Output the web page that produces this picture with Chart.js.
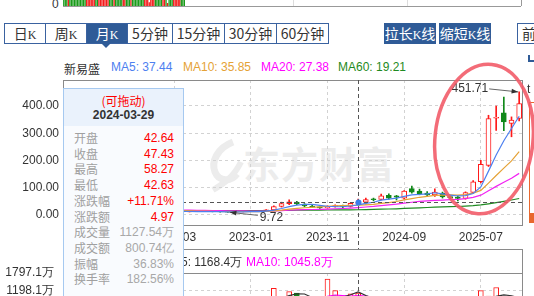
<!DOCTYPE html>
<html>
<head>
<meta charset="utf-8">
<title>新易盛 - 月K</title>
<script src="https://cdn.jsdelivr.net/npm/chart.js@4.4.1/dist/chart.umd.min.js"></script>
<style>
  body { margin:0; width:534px; height:296px; overflow:hidden; position:relative; background:#fff;
         font-family:"Liberation Sans", Arial, sans-serif; color:#333; }
  canvas { position:absolute; left:0; }
  .cn { font-family:"Noto Sans CJK SC", sans-serif; }
  #tabs { position:absolute; left:4px; top:23px; height:19px; border:1px solid #3a62a0; display:flex; }
  #tabs span { display:block; height:19px; line-height:19px; text-align:center; font-size:14px;
               font-family:"Noto Sans CJK SC", sans-serif; border-left:1px solid #3a62a0; color:#333; }
  #tabs span:first-child { border-left:none; }
  #tabs span.on { background:#2f5b97; color:#fff; }
  #tabs i { font-style:normal; font-family:"Liberation Serif", serif; font-size:12px; }
  #tri { position:absolute; left:101px; top:43px; width:0; height:0; border-left:5px solid transparent;
         border-right:5px solid transparent; border-top:5px solid #2f5b97; }
  .btn { position:absolute; top:23px; height:21px; line-height:21px; background:#2f5b97; color:#fff;
         font-size:14px; text-align:center; font-family:"Noto Sans CJK SC", sans-serif; }
  .btn i { font-style:normal; font-family:"Liberation Serif", serif; font-size:12px; }
  #prev { position:absolute; left:517px; top:23px; width:20px; height:19px; border:1px solid #3a62a0;
          font-size:14px; line-height:19px; padding-left:4px; font-family:"Noto Sans CJK SC", sans-serif; }
  #legend { position:absolute; left:64px; top:60px; font-size:12px; white-space:nowrap; }
  #legend span { position:absolute; top:0; }
  #volLegend { position:absolute; left:0; top:254px; font-size:12px; white-space:nowrap; }
  #volLegend span { position:absolute; top:0; }
  #watermark { position:absolute; left:243px; top:136px; font-size:37px; font-weight:bold; color:#ececec;
               font-family:"Noto Sans CJK SC", sans-serif; letter-spacing:1px; }
  #tip { position:absolute; left:63px; top:88px; width:119px; height:230px; border:1px solid #a6c9f0;
         background:#f9fbfe; font-size:12px; }
  #tipHead { height:37px; background:#eaf2fc; text-align:center; }
  #tipHead .drag { color:#f00; padding-top:5px; line-height:14px; font-family:"Noto Sans CJK SC", sans-serif; }
  #tipHead .date { font-weight:bold; color:#333; line-height:14px; }
  .row { position:absolute; left:10px; width:100px; height:16px; line-height:16px; }
  .row span { color:#a0a0a0; font-family:"Noto Sans CJK SC", sans-serif; }
  .row b { position:absolute; right:0; top:0; font-weight:normal; }
  .red { color:#f00; }
  .gray { color:#a8a8a8; }
  #side { position:absolute; left:529px; top:102px; width:6px; height:119px; border:1px solid #e8682e;
          border-right:none; background:#fff; }
  #side div { position:absolute; left:0; bottom:0; width:6px; height:9px; background:#e8682e; }
</style>
</head>
<body>

<div style="position:absolute;left:52px;top:-3px;font-size:12px;">0</div>
<canvas id="strip" width="534" height="7" style="top:0"></canvas>

<div id="tabs">
  <span style="width:40px">日<i>K</i></span>
  <span style="width:40px">周<i>K</i></span>
  <span class="on" style="width:40px">月<i>K</i></span>
  <span style="width:44px">5分钟</span>
  <span style="width:51px">15分钟</span>
  <span style="width:51px">30分钟</span>
  <span style="width:51px">60分钟</span>
</div>
<div id="tri"></div>
<div class="btn" style="left:384px;width:52px;">拉长<i>K</i>线</div>
<div class="btn" style="left:439px;width:52px;">缩短<i>K</i>线</div>
<div id="prev">前</div>
<div style="position:absolute;left:528px;top:55px;width:5px;height:5px;border-left:2px solid #2f5b97;border-bottom:2px solid #2f5b97;"></div>

<div id="legend">
  <span class="cn" style="left:0;color:#333;">新易盛</span>
  <span style="left:47px;color:#4d80f0;">MA5: 37.44</span>
  <span style="left:119px;color:#e5a236;">MA10: 35.85</span>
  <span style="left:197px;color:#f0f;">MA20: 27.38</span>
  <span style="left:274px;color:#1f8a22;">MA60: 19.21</span>
</div>

<div id="watermark">东方财富</div>
<svg style="position:absolute;left:203px;top:138px" width="42" height="56">
  <path d="M30 4 C14 10 8 24 12 34 C16 44 28 44 34 36" fill="none" stroke="#ececec" stroke-width="7"/>
  <path d="M10 52 C20 46 30 40 38 24" fill="none" stroke="#ececec" stroke-width="6"/>
</svg>

<canvas id="main" width="534" height="170" style="top:80px"></canvas>

<div style="position:absolute;left:527px;top:82px;font-size:12px;">t</div>
<div id="side"><div></div></div>

<canvas id="vol" width="534" height="80" style="top:249px"></canvas>
<div id="volLegend">
  <span id="vma5" style="left:163px;color:#333;"></span>
  <span id="vma10" style="left:246px;color:#f0f;"></span>
</div>

<div id="tip">
  <div id="tipHead"><div class="drag">(可拖动)</div><div class="date" id="tipDate"></div></div>
</div>

<svg style="position:absolute;left:0;top:0;pointer-events:none" width="534" height="296">
  <ellipse cx="484" cy="139" rx="49" ry="75" transform="rotate(6 484 139)" fill="none"
           stroke="#f25c69" stroke-width="3.5" opacity="0.9"/>
</svg>

<script>

// monthly K data, forward adjusted
var months = [
  '2021-01','2021-02','2021-03','2021-04','2021-05','2021-06','2021-07','2021-08','2021-09','2021-10','2021-11','2021-12',
  '2022-01','2022-02','2022-03','2022-04','2022-05','2022-06','2022-07','2022-08','2022-09','2022-10','2022-11','2022-12',
  '2023-01','2023-02','2023-03','2023-04','2023-05','2023-06','2023-07','2023-08','2023-09','2023-10','2023-11','2023-12',
  '2024-01','2024-02','2024-03','2024-04','2024-05','2024-06','2024-07','2024-08','2024-09','2024-10','2024-11','2024-12',
  '2025-01','2025-02','2025-03','2025-04','2025-05','2025-06','2025-07','2025-08','2025-09','2025-10','2025-11','2025-12'
];
var openP  = [20,22,20,17,19,21,20,18,20,17,18,17, 16,14,14,12.5,11.5,12.5,13,12.5,12,11,10.5,12,
              12.5,14.5,13.5,18.5,31,42,47,40,33,29,26,31, 34,31,42.64,47.5,58,57,72,70,62,97,88,80,
              74,80,68,66,61,83,122,182,355,375,336,354];
var highP  = [24,25,21,20,22,23,22,21,21,19,19,18, 17,15,15,13,13,14,14,13,12.5,11.5,12.5,13,
              15,16,20,34,47,56,50,42,35,30,34,37, 36,44,58.27,62,62,77,78,72,90,106,95,86,
              96,84,72,70,85,126,201,366,400,433,360,451.71];
var lowP   = [18,19,16,16,18,19,17,17,16,16,16,15, 13,13,12,10.5,11,12,12,11.5,10.5,9.72,10.2,11.5,
              12,13,13,18,29,38,38,30,27,24,25,29, 26,29,42.63,40,52,55,58,55,58,80,74,70,
              68,62,58,52,58,80,118,178,310,309,287,345];
var closeP = [22,20,17,19,21,20,18,20,17,18,17,16, 14,14,12.5,11.5,12.5,13,12.5,12,11,10.5,12,12.5,
              14.5,13.5,18.5,31,42,48,41,33,29,26,31,34, 31,42.46,47.43,57,56,70,62,65,88,84,78,74,
              84,66,64,61,82,122,186,354,358,342,348,409];

// moving averages (hidden under the info box before 2022-04)
var ma5  = [null,null,null,null,null,null,null,null,null,null,null,null,null,null,null,
  13.6,12.9,12.7,12.4,12.3,12.2,11.8,11.6,11.6,12.1,12.6,14.2,18.0,23.9,30.6,36.1,39.0,38.6,35.4,32.0,
  30.6,30.2,32.9,37.44,42.4,46.8,54.6,58.5,62.0,68.2,73.8,75.4,77.8,81.6,77.2,73.2,69.8,71.4,79.0,103.0,
  161.0,220.4,272.4,317.6,362.2];
var ma10 = [null,null,null,null,null,null,null,null,null,null,null,null,null,null,null,
  15.8,15.25,14.55,14.1,13.5,12.9,12.35,12.15,12.0,12.2,12.4,13.0,14.8,17.75,21.35,24.35,26.6,28.3,29.65,31.3,
  33.35,34.6,35.75,35.85,37.2,38.7,42.4,45.7,49.6,55.3,60.3,65.0,68.1,71.8,72.7,73.5,72.6,74.6,80.3,90.1,
  117.1,145.1,171.9,198.3,232.6];
var ma20 = [null,null,null,null,null,null,null,null,null,null,null,null,null,null,null,
  18.0,17.5,17.0,16.7,16.35,15.8,15.3,15.1,14.75,14.4,14.1,14.1,14.7,15.9,17.4,18.6,19.5,20.2,20.8,21.75,
  22.9,23.8,25.3,27.38,29.3,31.5,34.5,37.0,39.6,43.3,46.8,49.8,51.9,54.0,54.9,56.1,57.5,60.1,64.9,72.7,
  88.7,105.0,120.0,135.0,152.7];
var ma60 = [null,null,null,null,null,null,null,null,null,null,null,null,null,null,null,
  16.5,16.4,16.3,16.2,16.1,16.0,15.9,15.8,15.8,15.8,15.8,15.9,16.1,16.5,17.0,17.4,17.7,17.9,18.1,18.3,
  18.5,18.7,18.9,19.21,19.8,20.4,21.2,22.0,22.8,24.0,25.2,26.3,27.4,28.6,29.5,30.4,31.2,32.4,34.1,36.8,
  41.0,45.5,50.0,55.0,60.5];

// volume, 万股
var volume = [900,850,1000,750,800,700,900,750,650,600,700,650, 800,700,650,600,700,650,800,600,500,550,750,600,
  700,800,1000,1283,950,1176,1126,960,700,650,1598,1208, 810,1100,1127.54,1000,750,900,700,600,950,1000,800,650,
  700,600,550,750,650,900,1208,1030,1315,900,750,850];
var volMa5  = [null,null,null,null,null,null,null,null,null,null,null,null,null,null,null,null,
  690,660,680,670,650,620,640,600,620,680,770,877,947,1042,1107,1099,982,922,1007,1023,993,1073,1168.4,
  1049,958,976,896,790,780,830,810,800,820,750,660,650,650,690,812,908,1021,1071,1041,969];
var volMa10 = [null,null,null,null,null,null,null,null,null,null,null,null,null,null,null,null,
  690,680,690,680,660,655,650,640,645,665,695,758,773,831,893,934,930,934,1024,1065,1046,1027,1045.8,
  1028,990,985,985,979,915,894,893,848,805,765,745,730,725,755,781,784,836,861,866,891];

var priceTicks = [0, 100, 200, 300, 400];
var volTicks = [0, 599.0, 1198.1, 1797.1];
var tickMonths = ['2022-03', '2023-01', '2023-11', '2024-09', '2025-07'];
var crossMonth = '2024-03';
var crossDate = '2024-03-29';
var turnoverAmt = '800.74亿';
var turnoverRate = '182.56%';

// tail of the chart above (daily volume strip)
var stripUp = ['gggrgggggg','gggggrrrrr','rggrrrrrrr','gggrgggggr','rgggrggggg','gggrrrrrrr','gggggrrgrg','ggrrrrrggg'].join('');
var stripVals = [10,10,10,10,10,10,10,10,10,10, 10,10,10,10,10,10,10,10,10,10, 10,10,10,10,10,10,10,10,10,10,
                 10,10,10,10,10,10,10,10,10,10, 10,10,10,10,10,10,10,10,10,10, 10,10,10,10,10,10,5,10,10,10,
                 10,10,10,10,10,10,10,10,4,10, 10,10,10,10,10,10,10,10,10,10];

var RED = '#ff1a1a', GREEN = '#11891a';
var GRID = '#d2d2d2';

function isUp(i) { return closeP[i] >= openP[i]; }
function labelled(i) { return tickMonths.indexOf(months[i]) >= 0; }
var crossIdx = months.indexOf(crossMonth);

function arrowTo(ctx, x1, y1, x2, y2) {
  ctx.beginPath(); ctx.moveTo(x1, y1); ctx.lineTo(x2, y2); ctx.stroke();
  var a = Math.atan2(y2 - y1, x2 - x1);
  ctx.beginPath(); ctx.moveTo(x2, y2);
  ctx.lineTo(x2 - 7 * Math.cos(a - 0.35), y2 - 7 * Math.sin(a - 0.35));
  ctx.lineTo(x2 - 7 * Math.cos(a + 0.35), y2 - 7 * Math.sin(a + 0.35));
  ctx.closePath(); ctx.fill();
}

function crossLine(chart) {
  var ctx = chart.ctx;
  var cx = Math.round(chart.scales.x.getPixelForValue(crossIdx)) + 0.5;
  ctx.save();
  ctx.strokeStyle = '#555'; ctx.lineWidth = 1; ctx.setLineDash([4, 3]);
  ctx.beginPath(); ctx.moveTo(cx, chart.chartArea.top); ctx.lineTo(cx, chart.height); ctx.stroke();
  ctx.restore();
  return cx;
}

var mainOverlay = {
  id: 'mainOverlay',
  afterDatasetsDraw: function(chart) {
    var ctx = chart.ctx, ca = chart.chartArea, xs = chart.scales.x, ys = chart.scales.y;
    ctx.save();
    ctx.strokeStyle = '#8a8a8a'; ctx.lineWidth = 1;
    ctx.strokeRect(Math.round(ca.left) + 0.5, Math.round(ca.top) + 0.5,
                   Math.round(ca.right - ca.left) - 1, Math.round(ca.bottom - ca.top) - 1);
    ctx.restore();

    var cx = crossLine(chart);
    var cy = Math.round(ys.getPixelForValue(closeP[crossIdx])) + 0.5;
    ctx.save();
    ctx.strokeStyle = '#555'; ctx.setLineDash([4, 3]);
    ctx.beginPath(); ctx.moveTo(ca.left, cy); ctx.lineTo(ca.right, cy); ctx.stroke();
    ctx.setLineDash([]);
    ctx.fillStyle = '#3b7de9';
    ctx.beginPath(); ctx.arc(cx, cy, 3, 0, Math.PI * 2); ctx.fill();

    // highest / lowest marks
    var hi = highP.indexOf(Math.max.apply(null, highP));
    var lo = lowP.indexOf(Math.min.apply(null, lowP));
    var hx = xs.getPixelForValue(hi), hy = ys.getPixelForValue(highP[hi]);
    var lx = xs.getPixelForValue(lo), ly = ys.getPixelForValue(lowP[lo]);
    ctx.font = '12px "Liberation Sans", Arial';
    ctx.fillStyle = '#333'; ctx.strokeStyle = '#666'; ctx.lineWidth = 1;
    ctx.textBaseline = 'middle';
    ctx.textAlign = 'right';
    ctx.fillText(highP[hi].toFixed(2), hx - 31, hy - 3);
    arrowTo(ctx, hx - 30, hy - 3, hx - 1, hy);
    ctx.textAlign = 'left';
    ctx.fillText(lowP[lo].toFixed(2), lx + 32, ly + 5);
    arrowTo(ctx, lx + 30, ly + 3, lx + 2, ly);
    ctx.restore();
  }
};

var volOverlay = {
  id: 'volOverlay',
  afterDatasetsDraw: function(chart) {
    var ctx = chart.ctx, ca = chart.chartArea;
    ctx.save();
    ctx.strokeStyle = '#8a8a8a'; ctx.lineWidth = 1;
    var l = Math.round(ca.left) + 0.5, r = Math.round(ca.right) - 0.5;
    ctx.beginPath();
    ctx.moveTo(l, 0.5); ctx.lineTo(r, 0.5);
    ctx.moveTo(l, Math.round(ca.top) + 0.5); ctx.lineTo(r, Math.round(ca.top) + 0.5);
    ctx.moveTo(l, 0); ctx.lineTo(l, chart.height);
    ctx.moveTo(r, 0); ctx.lineTo(r, chart.height);
    ctx.stroke();
    ctx.restore();
    crossLine(chart);
  }
};

function yAxisFit(w) {
  return function(scale) { scale.width = w; scale.paddingTop = 0; scale.paddingBottom = 0; };
}
function xAxisFit(h) {
  return function(scale) { scale.height = h; scale.paddingLeft = 0; scale.paddingRight = 0; };
}

var xGrid = {
  display: true,
  offset: false,
  drawTicks: false,
  color: function(c) { return labelled(c.index) ? GRID : 'rgba(0,0,0,0)'; }
};

// main candlestick chart
new Chart(document.getElementById('main').getContext('2d'), {
  type: 'bar',
  data: {
    labels: months,
    datasets: [
      { type: 'line', data: ma5, borderColor: '#4d80f0', borderWidth: 1.2, pointRadius: 0, order: 0 },
      { type: 'line', data: ma10, borderColor: '#e5a236', borderWidth: 1.2, pointRadius: 0, order: 0 },
      { type: 'line', data: ma20, borderColor: '#f224f2', borderWidth: 1.2, pointRadius: 0, order: 0 },
      { type: 'line', data: ma60, borderColor: '#1f8a22', borderWidth: 1.2, pointRadius: 0, order: 0 },
      {
        data: months.map(function(m, i) { return [openP[i], closeP[i]]; }),
        backgroundColor: months.map(function(m, i) { return isUp(i) ? '#fff' : GREEN; }),
        borderColor: months.map(function(m, i) { return isUp(i) ? RED : GREEN; }),
        borderWidth: 1, borderSkipped: false, barThickness: 5, minBarLength: 1,
        grouped: false, order: 2
      },
      {
        data: months.map(function(m, i) { return [lowP[i], highP[i]]; }),
        backgroundColor: months.map(function(m, i) { return isUp(i) ? RED : GREEN; }),
        borderWidth: 0, barThickness: 1, grouped: false, order: 3
      }
    ]
  },
  options: {
    responsive: false,
    animation: false,
    events: [],
    layout: { padding: { left: 0, right: 11, top: 0, bottom: 0 } },
    plugins: { legend: { display: false }, tooltip: { enabled: false } },
    scales: {
      x: {
        grid: xGrid,
        border: { display: false, dash: [3, 3] },
        ticks: {
          autoSkip: false, maxRotation: 0, padding: 4,
          color: '#333', font: { size: 12, family: '"Liberation Sans", Arial' },
          callback: function(v, i) { return labelled(i) ? months[i] : ''; }
        },
        afterFit: xAxisFit(24)
      },
      y: {
        min: -40.4, max: 495.4,
        grid: { color: GRID, drawTicks: false },
        border: { display: false, dash: [3, 3] },
        afterBuildTicks: function(scale) { scale.ticks = priceTicks.map(function(v) { return { value: v }; }); },
        ticks: {
          padding: 4, color: '#333', font: { size: 12, family: '"Liberation Sans", Arial' },
          callback: function(v) { return v.toFixed(2); }
        },
        afterFit: yAxisFit(63)
      }
    }
  },
  plugins: [mainOverlay]
});

// volume chart
new Chart(document.getElementById('vol').getContext('2d'), {
  type: 'bar',
  data: {
    labels: months,
    datasets: [
      { type: 'line', data: volMa5, borderColor: '#333', borderWidth: 1.2, pointRadius: 0, order: 0 },
      { type: 'line', data: volMa10, borderColor: '#f0f', borderWidth: 1.2, pointRadius: 0, order: 0 },
      {
        data: volume,
        backgroundColor: months.map(function(m, i) { return isUp(i) ? '#fff' : GREEN; }),
        borderColor: months.map(function(m, i) { return isUp(i) ? RED : GREEN; }),
        borderWidth: 1, borderSkipped: false, barThickness: 5, order: 1
      }
    ]
  },
  options: {
    responsive: false,
    animation: false,
    events: [],
    layout: { padding: { left: 0, right: 11, top: 24, bottom: 2 } },
    plugins: { legend: { display: false }, tooltip: { enabled: false } },
    scales: {
      x: {
        grid: xGrid,
        border: { display: false, dash: [3, 3] },
        ticks: { display: false },
        afterFit: xAxisFit(0)
      },
      y: {
        min: 0, max: 1797.1,
        grid: { color: GRID, drawTicks: false },
        border: { display: false, dash: [3, 3] },
        afterBuildTicks: function(scale) { scale.ticks = volTicks.map(function(v) { return { value: v }; }); },
        ticks: {
          padding: 9, color: '#333', font: { size: 12, family: '"Liberation Sans", Arial' },
          callback: function(v) { return v.toFixed(1) + '万'; }
        },
        afterFit: yAxisFit(63)
      }
    }
  },
  plugins: [volOverlay]
});

// strip left over from the chart above
var stripSlots = Array.from({ length: 300 }, function(_, i) { return i; });
new Chart(document.getElementById('strip').getContext('2d'), {
  type: 'bar',
  data: {
    labels: stripSlots,
    datasets: [{
      data: stripVals,
      backgroundColor: stripVals.map(function(v, i) { return stripUp[i] == 'r' ? '#f21c1c' : '#1a9a1a'; }),
      barPercentage: 0.85, categoryPercentage: 1
    }]
  },
  options: {
    responsive: false, animation: false, events: [],
    layout: { padding: { left: 63, right: 13, top: 0, bottom: 1 } },
    plugins: { legend: { display: false }, tooltip: { enabled: false } },
    scales: {
      x: { display: false },
      y: { display: false, min: 0, max: 8 }
    }
  },
  plugins: [{
    id: 'stripBorder',
    afterDraw: function(chart) {
      var ctx = chart.ctx, ca = chart.chartArea;
      ctx.save();
      ctx.strokeStyle = '#ddd';
      [150, 225].forEach(function(s) {
        var x = Math.round(chart.scales.x.getPixelForValue(s)) + 0.5;
        ctx.beginPath(); ctx.moveTo(x, 0); ctx.lineTo(x, ca.bottom); ctx.stroke();
      });
      ctx.strokeStyle = '#999';
      ctx.beginPath();
      ctx.moveTo(ca.left, Math.round(ca.bottom) + 0.5); ctx.lineTo(ca.right, Math.round(ca.bottom) + 0.5);
      ctx.moveTo(Math.round(ca.right) + 0.5, 0); ctx.lineTo(Math.round(ca.right) + 0.5, ca.bottom);
      ctx.stroke();
      ctx.restore();
    }
  }]
});

// legends and info box filled from the data
var vi = crossIdx;
document.getElementById('vma5').textContent = 'MA5: ' + volMa5[vi].toFixed(1) + '万';
document.getElementById('vma10').textContent = 'MA10: ' + volMa10[vi].toFixed(1) + '万';

var prev = closeP[vi - 1];
var chg = closeP[vi] - prev;
var rows = [
  ['开盘', openP[vi].toFixed(2), 'red'],
  ['收盘', closeP[vi].toFixed(2), 'red'],
  ['最高', highP[vi].toFixed(2), 'red'],
  ['最低', lowP[vi].toFixed(2), 'red'],
  ['涨跌幅', (chg >= 0 ? '+' : '') + (chg / prev * 100).toFixed(2) + '%', 'red'],
  ['涨跌额', chg.toFixed(2), 'red'],
  ['成交量', volume[vi].toFixed(2) + '万', 'gray'],
  ['成交额', turnoverAmt, 'gray'],
  ['振幅', ((highP[vi] - lowP[vi]) / prev * 100).toFixed(2) + '%', 'gray'],
  ['换手率', turnoverRate, 'gray']
];
document.getElementById('tipDate').textContent = crossDate;
var tip = document.getElementById('tip');
rows.forEach(function(r, i) {
  var d = document.createElement('div');
  d.className = 'row';
  d.style.top = (41 + i * 15.7) + 'px';
  d.innerHTML = '<span>' + r[0] + '</span><b class="' + r[2] + '">' + r[1] + '</b>';
  tip.appendChild(d);
});

</script>
</body>
</html>
